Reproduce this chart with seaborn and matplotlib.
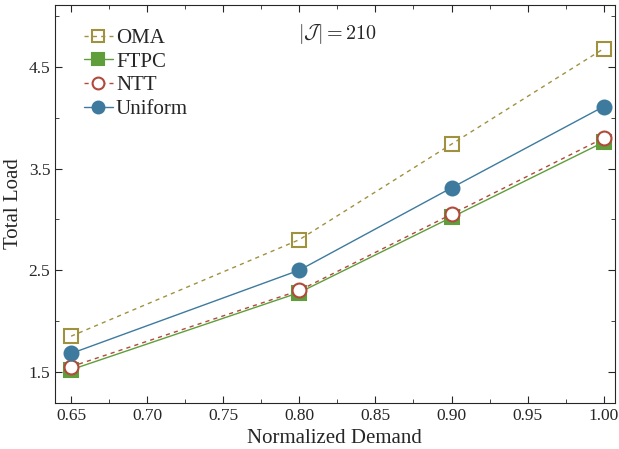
import matplotlib
matplotlib.use('Agg')
import matplotlib.pyplot as plt
import seaborn as sns
from matplotlib.ticker import MultipleLocator

demand = [0.65, 0.80, 0.90, 1.00]
oma = [1.85, 2.80, 3.74, 4.68]
ftpc = [1.52, 2.28, 3.02, 3.76]
ntt = [1.55, 2.30, 3.05, 3.80]
uniform = [1.68, 2.50, 3.31, 4.11]

sns.set_style('ticks')
plt.rcParams['font.family'] = ['Liberation Serif', 'DejaVu Serif']
plt.rcParams['mathtext.fontset'] = 'cm'

fig, ax = plt.subplots(figsize=(6.19, 4.49), dpi=100)

series = [
    ('OMA', oma, '#a0913f', 's', (0, (3, 3)), 'none'),
    ('FTPC', ftpc, '#5f9e3b', 's', '-', None),
    ('NTT', ntt, '#b04a3b', 'o', (0, (3, 3)), 'white'),
    ('Uniform', uniform, '#3d7a9e', 'o', '-', None),
]

for name, vals, col, mk, ls, face in series:
    sns.lineplot(x=demand, y=vals, ax=ax, color=col, marker=mk, linestyle=ls,
                 linewidth=1.0, markersize=10,
                 markerfacecolor=face if face else col,
                 markeredgecolor=col, markeredgewidth=1.5, label=name)

ax.set_xlim(0.6395, 1.0072)
ax.set_ylim(1.195, 5.11)
ax.xaxis.set_minor_locator(MultipleLocator(0.025))
ax.yaxis.set_minor_locator(MultipleLocator(0.5))
ax.set_yticks([1.5, 2.5, 3.5, 4.5])
ax.set_xticks([0.65, 0.70, 0.75, 0.80, 0.85, 0.90, 0.95, 1.00])
ax.set_xticklabels(['0.65', '0.70', '0.75', '0.80', '0.85', '0.90', '0.95', '1.00'])
ax.tick_params(which='both', direction='in', top=True, right=True, labelsize=12.5)
ax.tick_params(which='major', length=5)
ax.tick_params(which='minor', length=3)

ax.set_xlabel('Normalized Demand', fontsize=15, labelpad=4)
ax.set_ylabel('Total Load', fontsize=15)

ax.text(0.504, 0.927, r'$|\mathcal{J}| = 210$', transform=ax.transAxes,
        fontsize=14.5, ha='center', va='center')

leg = ax.legend(loc='upper left', fontsize=15, frameon=False, handlelength=1.4,
                handletextpad=0.15, labelspacing=0.2, borderaxespad=0.3,
                markerscale=0.85, bbox_to_anchor=(0.025, 0.978))

plt.subplots_adjust(left=0.089, right=0.993, top=0.989, bottom=0.103)
fig.savefig('out.png', dpi=100)
